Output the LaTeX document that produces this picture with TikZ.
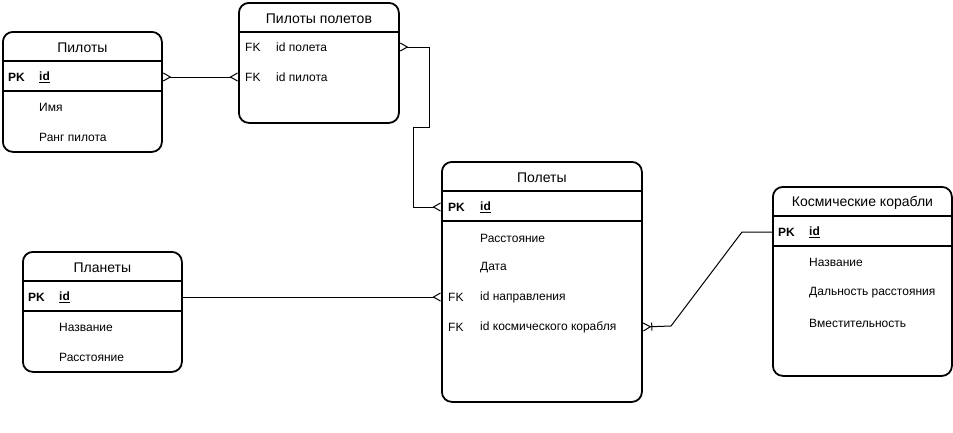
\documentclass[tikz,border=0pt]{standalone}
\usepackage{fontspec}
\setmainfont{Liberation Sans}
\usetikzlibrary{arrows.meta,calc}
\definecolor{linegray}{RGB}{0,0,0}

\begin{document}
\begin{tikzpicture}[
  x=1pt, y=-1pt,
  entity/.style={
    draw=linegray,
    line width=1.8pt,
    rounded corners=10pt,
    anchor=north west,
    inner sep=0pt
  },
  title/.style={font=\fontsize{14}{16}\selectfont, inner sep=0pt, yshift=-1.5pt},
  key/.style={font=\fontsize{12}{14}\selectfont, anchor=west, inner sep=0pt, yshift=-1pt},
  field/.style={font=\fontsize{12}{14}\selectfont, anchor=west, inner sep=0pt, yshift=-1pt},
  sepline/.style={draw=linegray, line width=1.4pt},
  many/.tip={Straight Barb[reversed, length=7pt, width=8pt]},
  rel/.style={draw=linegray, line width=1pt}
]
\useasboundingbox[fill=white] (0,0) rectangle (953,432);

% Pilots
\node[entity, minimum width=159pt, minimum height=120pt] (pil) at (2,31) {};
\node[title] (pil-t) at ($(pil.north)+(0,15)$) {Пилоты};
\draw[sepline] ($(pil.north west)+(0,30)$) -- ($(pil.north east)+(0,30)$);
\node[key] (pil-pk) at ($(pil.north west)+(6,45)$) {\textbf{PK}};
\node[field] (pil-id) at ($(pil.north west)+(37,45)$) {\textbf{\underline{id}}};
\draw[sepline] ($(pil.north west)+(0,60)$) -- ($(pil.north east)+(0,60)$);
\node[field] (pil-f1) at ($(pil.north west)+(37,75)$) {Имя};
\node[field] (pil-f2) at ($(pil.north west)+(37,105)$) {Ранг пилота};

% Flight pilots
\node[entity, minimum width=160pt, minimum height=120pt] (fp) at (238,2) {};
\node[title] (fp-t) at ($(fp.north)+(0,15)$) {Пилоты полетов};
\draw[sepline] ($(fp.north west)+(0,30)$) -- ($(fp.north east)+(0,30)$);
\node[key] (fp-fk1) at ($(fp.north west)+(7,44)$) {FK};
\node[field] (fp-f1) at ($(fp.north west)+(38,44)$) {id полета};
\node[key] (fp-fk2) at ($(fp.north west)+(7,74)$) {FK};
\node[field] (fp-f2) at ($(fp.north west)+(38,74)$) {id пилота};

% Flights
\node[entity, minimum width=200pt, minimum height=240pt] (fl) at (441,161) {};
\node[title] (fl-t) at ($(fl.north)+(0,15)$) {Полеты};
\draw[sepline] ($(fl.north west)+(0,30)$) -- ($(fl.north east)+(0,30)$);
\node[key] (fl-pk) at ($(fl.north west)+(7,45)$) {\textbf{PK}};
\node[field] (fl-id) at ($(fl.north west)+(39,45)$) {\textbf{\underline{id}}};
\draw[sepline] ($(fl.north west)+(0,60)$) -- ($(fl.north east)+(0,60)$);
\node[field] (fl-f1) at ($(fl.north west)+(39,76)$) {Расстояние};
\node[field] (fl-f2) at ($(fl.north west)+(39,106)$) {Дата};
\node[key] (fl-fk1) at ($(fl.north west)+(7,135)$) {FK};
\node[field] (fl-f3) at ($(fl.north west)+(39,135)$) {id направления};
\node[key] (fl-fk2) at ($(fl.north west)+(7,165)$) {FK};
\node[field] (fl-f4) at ($(fl.north west)+(39,165)$) {id космического корабля};

% Planets
\node[entity, minimum width=159pt, minimum height=120pt] (pl) at (22,251) {};
\node[title] (pl-t) at ($(pl.north)+(0,15)$) {Планеты};
\draw[sepline] ($(pl.north west)+(0,30)$) -- ($(pl.north east)+(0,30)$);
\node[key] (pl-pk) at ($(pl.north west)+(6,45)$) {\textbf{PK}};
\node[field] (pl-id) at ($(pl.north west)+(37,45)$) {\textbf{\underline{id}}};
\draw[sepline] ($(pl.north west)+(0,60)$) -- ($(pl.north east)+(0,60)$);
\node[field] (pl-f1) at ($(pl.north west)+(37,75)$) {Название};
\node[field] (pl-f2) at ($(pl.north west)+(37,105)$) {Расстояние};

% Spaceships
\node[entity, minimum width=179pt, minimum height=189pt] (sh) at (772,186) {};
\node[title] (sh-t) at ($(sh.north)+(0,15)$) {Космические корабли};
\draw[sepline] ($(sh.north west)+(0,30)$) -- ($(sh.north east)+(0,30)$);
\node[key] (sh-pk) at ($(sh.north west)+(6,45)$) {\textbf{PK}};
\node[field] (sh-id) at ($(sh.north west)+(37,45)$) {\textbf{\underline{id}}};
\draw[sepline] ($(sh.north west)+(0,60)$) -- ($(sh.north east)+(0,60)$);
\node[field] (sh-f1) at ($(sh.north west)+(37,75)$) {Название};
\node[field] (sh-f2) at ($(sh.north west)+(37,106)$) {Дальность расстояния};
\node[field] (sh-f3) at ($(sh.north west)+(37,136)$) {Вместительность};

% Relations
\draw[rel, many-many] (pil.east |- pil-id) -- (fp.west |- fp-f2);
\draw[rel, many-many] (fp.east |- fp-f1) -- ++(30,0) -- ++(0,80) -- ++(-16,0) |- (fl.west |- fl-id);
\draw[rel, -many] (pl.east |- pl-id) -- (fl.west |- fl-f3);
\draw[rel, -{Bar[width=8pt] many}] (sh.west |- sh-id) -- ++(-30,0) -- (671,326) -- (fl.east |- fl-f4);

\end{tikzpicture}
\end{document}
